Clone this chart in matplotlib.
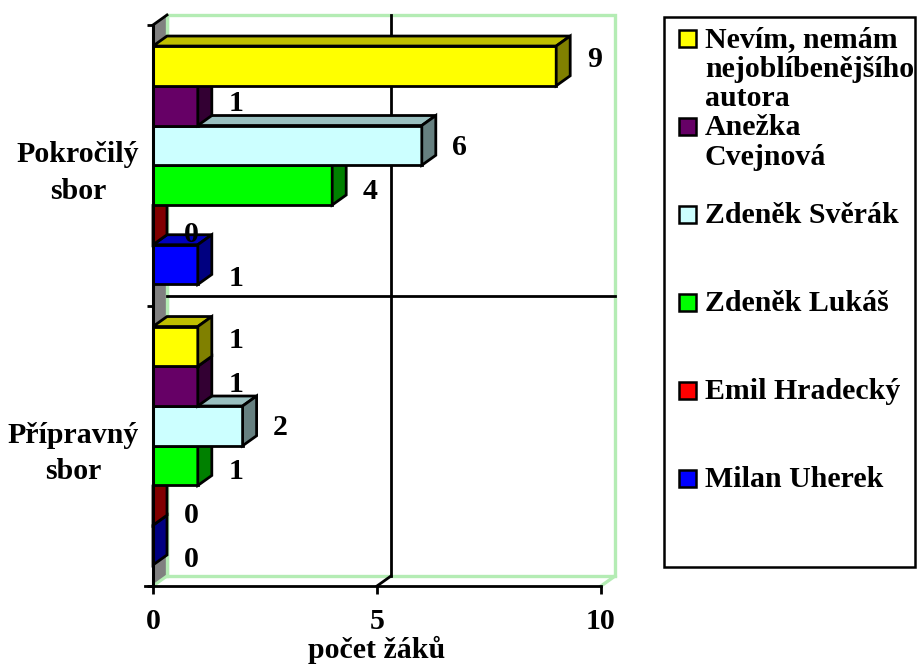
import matplotlib
matplotlib.use("Agg")
import matplotlib.pyplot as plt
from matplotlib.patches import Polygon, Rectangle

plt.rcParams['font.family'] = ['Liberation Serif', 'DejaVu Serif']
plt.rcParams['font.weight'] = 'bold'

# ---- data ----
categories = ["Přípravný\nsbor", "Pokročilý\nsbor"]   # bottom -> top
series_names = ["Nevím, nemám\nnejoblíbenějšího\nautora", "Anežka\nCvejnová",
                "Zdeněk Svěrák", "Zdeněk Lukáš", "Emil Hradecký", "Milan Uherek"]
series_colors = ["#FFFF00", "#660066", "#CCFFFF", "#00FF00", "#FF0000", "#0000FF"]
zero_side_colors = ["#808000", "#330033", "#668080", "#008000", "#800000", "#000080"]
values_pripravny = [1, 1, 2, 1, 0, 0]
values_pokrocily = [9, 1, 6, 4, 0, 1]
values = [values_pripravny, values_pokrocily]
x_ticks = [0, 5, 10]
x_label = "počet žáků"

W, H = 917, 664
fig = plt.figure(figsize=(W / 100, H / 100), dpi=100)
fig.patch.set_facecolor("white")

# front plane of the plot in pixels
px_l, px_r, px_t, px_b = 153, 601, 25, 586
ax = fig.add_axes([px_l / W, 1 - px_b / H, (px_r - px_l) / W, (px_b - px_t) / H])
ax.set_xlim(0, 10)
ax.set_ylim(0, 2)
ax.set_facecolor("none")
for s in ax.spines.values():
    s.set_visible(False)

ux = (px_r - px_l) / 10.0
uy = (px_b - px_t) / 2.0
dx = 14 / ux
dy = 10 / uy

green = "#B4ECB4"
FS = 21.5
LW = 2.0

# back wall
ax.add_patch(Polygon([(dx, dy), (10 + dx, dy), (10 + dx, 2 + dy), (dx, 2 + dy)],
                     closed=True, facecolor="white", edgecolor=green, lw=2.4,
                     clip_on=False, zorder=1))
# floor right edge
ax.plot([10, 10 + dx], [0, dy], color=green, lw=2.4, clip_on=False, zorder=1)
# left wall
ax.add_patch(Polygon([(0, 0), (dx, dy), (dx, 2 + dy), (0, 2)], closed=True,
                     facecolor="#808080", edgecolor="none", clip_on=False, zorder=1))
ax.plot([dx, dx], [dy, 2 + dy], color=green, lw=2.4, clip_on=False, zorder=1.1)
ax.plot([0, dx], [2, 2 + dy], color="black", lw=LW, clip_on=False, zorder=1.2)
ax.plot([0, dx], [0, dy], color=green, lw=2.2, clip_on=False, zorder=1.2)
# gridlines
ax.plot([5 + dx, 5 + dx], [dy, 2 + dy], color="black", lw=LW, clip_on=False, zorder=1.5)
ax.plot([5, 5 + dx], [0, dy], color="black", lw=LW, clip_on=False, zorder=1.5)
ax.plot([dx, 10 + dx], [1 + dy, 1 + dy], color="black", lw=LW, clip_on=False, zorder=1.5)


def shade(c, f):
    r, g, b = matplotlib.colors.to_rgb(c)
    return (r * f, g * f, b * f)


n = len(series_names)
group = 0.85
bh = group / n
z = 3
for ci, vals in enumerate(values):
    top = ci + 0.5 + group / 2
    # draw from bottom bar to top bar
    for i in reversed(range(n)):
        v = vals[i]
        y1 = top - (i + 1) * bh
        y2 = top - i * bh
        col = series_colors[i]
        ec = dict(edgecolor="black", lw=LW, clip_on=False, joinstyle="miter")
        if v > 0:
            ax.add_patch(Polygon([(0, y1), (v, y1), (v, y2), (0, y2)], closed=True,
                                 facecolor=col, zorder=z, **ec))
            ax.add_patch(Polygon([(0, y2), (v, y2), (v + dx, y2 + dy), (dx, y2 + dy)],
                                 closed=True, facecolor=shade(col, 0.75), zorder=z, **ec))
            ax.add_patch(Polygon([(v, y1), (v + dx, y1 + dy), (v + dx, y2 + dy), (v, y2)],
                                 closed=True, facecolor=shade(col, 0.5), zorder=z, **ec))
        else:
            ax.add_patch(Polygon([(0, y1), (dx, y1 + dy), (dx, y2 + dy), (0, y2)],
                                 closed=True, facecolor=zero_side_colors[i], zorder=z, **ec))
        z += 0.01
        ax.text(v + 38 / ux, (y1 + y2) / 2 - (-6 + 4 * i) / uy, str(v),
                ha="center", va="center", fontsize=FS, fontweight="bold", zorder=10)

# axis lines
ax.plot([-8 / ux, 10], [0, 0], color="black", lw=LW, clip_on=False, zorder=5)
ax.plot([0, 0], [0, 2], color="black", lw=2.2, clip_on=False, zorder=6)

ax.set_xticks(x_ticks)
ax.set_xticklabels([str(t) for t in x_ticks], fontsize=FS, fontweight="bold")
ax.tick_params(axis="x", direction="out", length=5.5, width=LW, pad=10)
ax.set_yticks([0, 1, 2])
ax.set_yticklabels([])
ax.tick_params(axis="y", which="major", direction="out", length=4.5, width=LW)
ax.set_yticks([0.5, 1.5], minor=True)
ax.set_yticklabels(categories, minor=True, fontsize=FS, fontweight="bold",
                   multialignment="center", linespacing=1.45)
ax.tick_params(axis="y", which="minor", length=0, pad=10)
ax.set_xlabel(x_label, fontsize=FS, fontweight="bold", labelpad=1)

# legend (drawn manually in figure pixels)
def fx(p):
    return p / W


def fy(p):
    return 1 - p / H


fig.patches.append(Rectangle((fx(664), fy(567)), fx(915) - fx(664), fy(17) - fy(567),
                             transform=fig.transFigure, facecolor="white",
                             edgecolor="black", lw=1.8, zorder=0))
for i, name in enumerate(series_names):
    yc = 38 + 88 * i
    fig.patches.append(Rectangle((fx(679), fy(yc + 9)), 17 / W, 17 / H,
                                 transform=fig.transFigure, facecolor=series_colors[i],
                                 edgecolor="black", lw=1.8, zorder=2))
    fig.text(fx(705), fy(yc - 12), name, ha="left", va="top", fontsize=FS,
             fontweight="bold", linespacing=1.12)

fig.savefig("out.png", dpi=100)
